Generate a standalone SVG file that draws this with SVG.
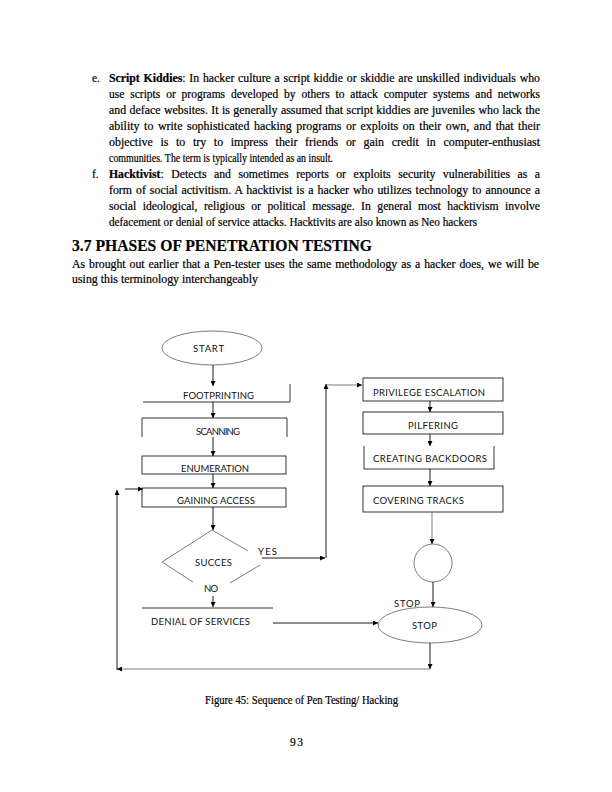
<svg xmlns="http://www.w3.org/2000/svg" width="612" height="792" viewBox="0 0 612 792">
<style>
.body{font-family:"Liberation Serif","Times New Roman",serif;font-size:11.5px;fill:#000;stroke:#000;stroke-width:0.2}
.b{font-weight:bold}
.lbl{font-family:Lato,"Liberation Sans",sans-serif;font-size:9.5px;fill:#111}
.ln{stroke:#000;stroke-width:0.9;fill:none}
.thin{stroke:#444;stroke-width:0.7;fill:none}
.box{stroke:#000;stroke-width:0.8;fill:none}
</style>
<defs>
<marker id="ah" viewBox="0 0 10 10" refX="10" refY="5" markerWidth="5" markerHeight="5" orient="auto" markerUnits="userSpaceOnUse">
<path d="M0,0 L10,5 L0,10 z" fill="#000"/>
</marker>
</defs>
<rect width="612" height="792" fill="#fff"/>

<g id="text-body">
<text class="body" x="92" y="82">e.</text>
<text class="body" x="109" y="82" textLength="431" lengthAdjust="spacingAndGlyphs" word-spacing="0.8"><tspan class="b">Script Kiddies</tspan>: In hacker culture a script kiddie or skiddie are unskilled individuals who</text>
<text class="body" x="109" y="98" textLength="431" lengthAdjust="spacingAndGlyphs" word-spacing="3">use scripts or programs developed by others to attack computer systems and networks</text>
<text class="body" x="109" y="114" textLength="431" lengthAdjust="spacingAndGlyphs" word-spacing="0.4">and deface websites. It is generally assumed that script kiddies are juveniles who lack the</text>
<text class="body" x="109" y="130" textLength="431" lengthAdjust="spacingAndGlyphs" word-spacing="1.5">ability to write sophisticated hacking programs or exploits on their own, and that their</text>
<text class="body" x="109" y="146" textLength="431" lengthAdjust="spacingAndGlyphs" word-spacing="4.5">objective is to try to impress their friends or gain credit in computer-enthusiast</text>
<text class="body" x="109" y="162" textLength="224" lengthAdjust="spacingAndGlyphs">communities. The term is typically intended as an insult.</text>
<text class="body" x="92" y="178">f.</text>
<text class="body" x="109" y="178" textLength="431" lengthAdjust="spacingAndGlyphs" word-spacing="4.5"><tspan class="b">Hacktivist</tspan>: Detects and sometimes reports or exploits security vulnerabilities as a</text>
<text class="body" x="109" y="194" textLength="431" lengthAdjust="spacingAndGlyphs" word-spacing="1">form of social activitism. A hacktivist is a hacker who utilizes technology to announce a</text>
<text class="body" x="109" y="210" textLength="431" lengthAdjust="spacingAndGlyphs" word-spacing="3.5">social ideological, religious or political message. In general most hacktivism involve</text>
<text class="body" x="109" y="226" textLength="368" lengthAdjust="spacingAndGlyphs">defacement or denial of service attacks. Hacktivits are also known as Neo hackers</text>
<text class="body b" x="72" y="251" style="font-size:16px" textLength="300" lengthAdjust="spacingAndGlyphs">3.7 PHASES OF PENETRATION TESTING</text>
<text class="body" x="72" y="268" textLength="467" lengthAdjust="spacingAndGlyphs" word-spacing="1">As brought out earlier that a Pen-tester uses the same methodology as a hacker does, we will be</text>
<text class="body" x="72" y="283" textLength="186" lengthAdjust="spacingAndGlyphs">using this terminology interchangeably</text>
</g>

<g id="start">
<ellipse cx="212" cy="348" rx="50" ry="17" class="thin"/>
<text class="lbl" x="193" y="351.5" textLength="31">START</text>
</g>
<g id="footprinting">
<path class="box" d="M143,402 H290 V384"/>
<text class="lbl" x="183" y="398.5" textLength="71">FOOTPRINTING</text>
</g>
<g id="scanning">
<path class="box" d="M142,437 V418 H287 V437"/>
<text class="lbl" x="196" y="434.5" textLength="44">SCANNING</text>
</g>
<g id="enumeration">
<rect class="box" x="142" y="456" width="144" height="18"/>
<text class="lbl" x="181" y="471.5" textLength="68">ENUMERATION</text>
</g>
<g id="gaining-access">
<rect class="box" x="142" y="488" width="144" height="19"/>
<text class="lbl" x="177" y="503.5" textLength="78">GAINING ACCESS</text>
</g>
<g id="success">
<path class="thin" d="M212,530 L162,562 L193,582 M212,530 L248,551 M260,565 L230,583"/>
<text class="lbl" x="195" y="565.5" textLength="37">SUCCES</text>
</g>
<g id="denial">
<path class="box" d="M142,608 H273"/>
<text class="lbl" x="151" y="624.5" textLength="99">DENIAL OF SERVICES</text>
</g>
<g id="privilege">
<rect class="box" x="363" y="378" width="140" height="23"/>
<text class="lbl" x="373" y="395.5" textLength="112">PRIVILEGE ESCALATION</text>
</g>
<g id="pilfering">
<rect class="box" x="363" y="412" width="140" height="22"/>
<text class="lbl" x="408" y="428.5" textLength="50">PILFERING</text>
</g>
<g id="creating">
<path class="box" d="M364,446 V469 H494 V446"/>
<text class="lbl" x="373" y="461.5" textLength="114">CREATING BACKDOORS</text>
</g>
<g id="covering">
<rect class="box" x="363" y="486" width="140" height="26"/>
<text class="lbl" x="373" y="503.5" textLength="91">COVERING TRACKS</text>
</g>
<g id="connector-circle">
<circle cx="433" cy="563" r="19" class="thin"/>
</g>
<g id="stop">
<ellipse cx="430" cy="625" rx="52" ry="18" class="thin"/>
<text class="lbl" x="412" y="628.5" textLength="25">STOP</text>
</g>

<g id="connectors">
<line class="ln" x1="213" y1="365" x2="213" y2="386" marker-end="url(#ah)"/>
<line class="ln" x1="213" y1="402" x2="213" y2="418" marker-end="url(#ah)"/>
<line class="ln" x1="213" y1="437" x2="213" y2="456" marker-end="url(#ah)"/>
<line class="ln" x1="213" y1="474" x2="213" y2="488" marker-end="url(#ah)"/>
<line class="ln" x1="213" y1="507" x2="213" y2="530" marker-end="url(#ah)"/>
<line class="ln" x1="262" y1="558" x2="325" y2="558" marker-end="url(#ah)"/>
<line class="ln" x1="326" y1="558" x2="326" y2="384" marker-end="url(#ah)"/>
<line class="thin" x1="327" y1="385" x2="362" y2="385" marker-end="url(#ah)"/>
<line class="ln" x1="213" y1="596" x2="213" y2="607" marker-end="url(#ah)"/>
<line class="ln" x1="273" y1="623" x2="378" y2="623" marker-end="url(#ah)"/>
<line class="ln" x1="430" y1="401" x2="430" y2="412" marker-end="url(#ah)"/>
<line class="ln" x1="430" y1="434" x2="430" y2="446" marker-end="url(#ah)"/>
<line class="ln" x1="430" y1="469" x2="430" y2="486" marker-end="url(#ah)"/>
<line class="thin" x1="432" y1="512" x2="432" y2="544" marker-end="url(#ah)"/>
<line class="ln" x1="433" y1="582" x2="433" y2="607" marker-end="url(#ah)"/>
<line class="ln" x1="430" y1="643" x2="430" y2="669" marker-end="url(#ah)"/>
<line class="thin" x1="430" y1="669" x2="117" y2="669" marker-end="url(#ah)"/>
<line class="ln" x1="117" y1="670" x2="117" y2="490" marker-end="url(#ah)"/>
<line class="ln" x1="125" y1="489" x2="143" y2="489" marker-end="url(#ah)"/>
<text class="lbl" x="258" y="554.5" textLength="19">YES</text>
<text class="lbl" x="204" y="591.5" textLength="14">NO</text>
<text class="lbl" x="394" y="606.5" textLength="26">STOP</text>
</g>

<g id="caption">
<text class="body" x="205" y="704" textLength="193" lengthAdjust="spacingAndGlyphs">Figure 45: Sequence of Pen Testing/ Hacking</text>
<text class="body" x="290" y="746" textLength="13">93</text>
</g>
</svg>
